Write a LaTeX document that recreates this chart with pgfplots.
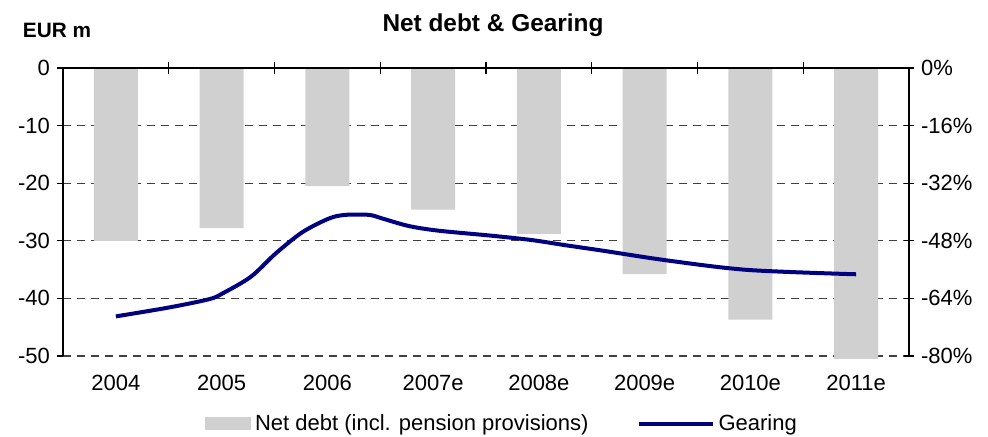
\documentclass[border=0pt]{standalone}
\usepackage{fontspec}
\setmainfont{Liberation Sans}
\usepackage{pgfplots}
\pgfplotsset{compat=1.18}
\definecolor{bargray}{HTML}{D0D0D0}
\definecolor{navyline}{HTML}{000080}
\definecolor{gridgray}{HTML}{404040}

\begin{document}
\begin{tikzpicture}[font=\fontsize{11}{13}\selectfont]
\path[use as bounding box] (-31.5pt,-40.5pt) rectangle (462.5pt,178pt);
\begin{axis}[
  scale only axis, width=423pt, height=144pt,
  at={(0pt,0pt)}, anchor=south west,
  xmin=-0.5, xmax=7.5, ymin=-50, ymax=0,
  clip=false,
  axis x line*=bottom,
  axis y line*=left,
  x axis line style={draw=none},
  y axis line style={line width=0.6pt},
  xtick={0,...,7},
  xticklabels={2004,2005,2006,2007e,2008e,2009e,2010e,2011e},
  x tick style={draw=none},
  xticklabel style={yshift=-3pt},
  ytick={-50,-40,...,0},
  y tick style={line width=0.6pt, black},
  tick align=outside, major tick length=3pt,
  ymajorgrids,
  grid style={gridgray, dash pattern=on 4pt off 3pt, line width=0.6pt},
  /pgf/number format/assume math mode=true,
  legend columns=2,
  legend style={draw=none, fill=none, at={(0.52,-0.236)}, anchor=center,
    /tikz/every even column/.append style={column sep=22pt},
    inner sep=0pt, font=\fontsize{11}{13}\selectfont},
]
\addplot[ybar, bar width=22pt, fill=bargray, draw=none,
  legend image code/.code={\fill[bargray] (0pt,-3.25pt) rectangle (23pt,3.25pt);}]
  coordinates {(0,-30.0) (1,-27.8) (2,-20.5) (3,-24.6) (4,-28.8) (5,-35.8) (6,-43.7) (7,-50.5)};
\addlegendentry{Net debt (incl. pension provisions)}
\addlegendimage{navyline, line width=2pt,
  legend image code/.code={\draw[navyline, line width=2pt] (0pt,0pt) -- (37pt,0pt);}}
\addlegendentry{Gearing}
\end{axis}
\begin{axis}[
  scale only axis, width=423pt, height=144pt,
  at={(0pt,0pt)}, anchor=south west,
  xmin=-0.5, xmax=7.5, ymin=-80, ymax=0,
  axis x line=none,
  axis y line*=right,
  y axis line style={line width=0.6pt},
  ytick={-80,-64,...,0},
  yticklabel={\pgfmathprintnumber{\tick}\%},
  y tick style={line width=0.6pt, black},
  tick align=center, major tick length=5pt,
  /pgf/number format/assume math mode=true,
]
\addplot[navyline, line width=2pt, smooth, tension=0.5] coordinates {
  (0,-69.0) (0.507,-66.5) (0.884,-64.2) (1.01,-62.6) (1.276,-58.0)
  (1.512,-51.5) (1.764,-45.6) (2.016,-41.8) (2.17,-40.8) (2.393,-40.8)
  (2.519,-41.8) (2.77,-43.9) (3.054,-45.2) (3.557,-46.6) (3.934,-47.8)
  (4.245,-49.2) (4.594,-50.7) (5.224,-53.5) (5.978,-56.1) (7.0,-57.3)};
\end{axis}
\draw[line width=0.6pt] (0pt,144pt) -- (423pt,144pt);
\foreach \i in {1,...,7} \draw[line width=0.6pt] (\i*52.875pt,141pt) -- (\i*52.875pt,147pt);
\node[font=\bfseries\fontsize{12.2}{14}\selectfont] at (215pt,165.5pt) {Net debt \& Gearing};
\node[font=\bfseries\fontsize{10.4}{12}\selectfont] at (-3pt,163pt) {EUR m};
\end{tikzpicture}
\end{document}
